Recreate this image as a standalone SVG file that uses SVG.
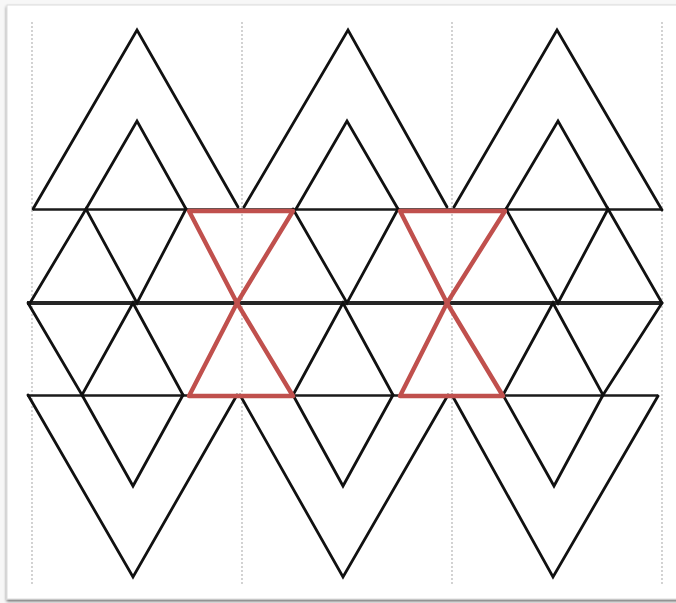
<svg xmlns="http://www.w3.org/2000/svg" width="676" height="603" viewBox="0 0 676 603">
  <style>
    .blk { fill: none; stroke: #111111; stroke-width: 2.8; stroke-linejoin: miter; stroke-linecap: round; }
    .hz { fill: none; stroke: #1a1a1a; stroke-width: 2.6; }
    .mid { fill: none; stroke: #262626; stroke-width: 3.8; }
    .red { fill: none; stroke: #c0504d; stroke-width: 4.4; stroke-linejoin: round; stroke-linecap: round; }
    .guide { stroke: #c8c8c8; stroke-width: 1.6; stroke-dasharray: 2 2; }
  </style>
  <defs>
    <filter id="sh" x="-5%" y="-5%" width="110%" height="110%">
      <feGaussianBlur in="SourceAlpha" stdDeviation="1.5"/>
      <feOffset dx="0" dy="1.5"/>
      <feComponentTransfer><feFuncA type="linear" slope="0.55"/></feComponentTransfer>
      <feMerge><feMergeNode/><feMergeNode in="SourceGraphic"/></feMerge>
    </filter>
  </defs>

  <rect x="0" y="0" width="676" height="603" fill="#f7f7f7"/>
  <g id="frame">
    <rect x="7" y="5" width="672" height="594" fill="#ffffff" stroke="#dcdcdc" stroke-width="1" filter="url(#sh)"/>
  </g>

  <g id="guides">
    <line class="guide" x1="32" y1="22" x2="32" y2="586"/>
    <line class="guide" x1="242" y1="22" x2="242" y2="586"/>
    <line class="guide" x1="452" y1="22" x2="452" y2="586"/>
    <line class="guide" x1="662" y1="22" x2="662" y2="586"/>
  </g>

  <g id="connectors">
    <line class="hz" x1="33" y1="209.5" x2="662" y2="209.5"/>
    <line class="mid" x1="27" y1="303" x2="662" y2="303"/>
    <line class="hz" x1="27" y1="395.5" x2="658" y2="395.5"/>

    <polyline class="blk" points="33,209 137,30 238,207"/>
    <polyline class="blk" points="244,207 348,30 447,207"/>
    <polyline class="blk" points="454,207 557,30 662,210"/>
    <polyline class="blk" points="86,209 137,121 186,209"/>
    <polyline class="blk" points="296,209 347,121 398,209"/>
    <polyline class="blk" points="506,209 558,121 608,209"/>

    <polyline class="blk" points="30,303 86,209 137,303 186,209"/>
    <polyline class="blk" points="293,209 347,303 398,209"/>
    <polyline class="blk" points="506,209 558,303 608,209 662,303"/>

    <polyline class="blk" points="28,303 82,395 133,303 183,395"/>
    <polyline class="blk" points="293,395 343,303 393,395"/>
    <polyline class="blk" points="503,395 553,303 603,395 662,303"/>

    <polyline class="blk" points="28,395 133,577 237,395"/>
    <polyline class="blk" points="240,395 343,577 448,395"/>
    <polyline class="blk" points="452,395 553,577 658,396"/>
    <polyline class="blk" points="82,395 133,486 183,395"/>
    <polyline class="blk" points="293,395 343,486 393,395"/>
    <polyline class="blk" points="503,395 554,486 603,395"/>
  </g>

  <g id="hourglass-1">
    <polygon class="red" points="189,211 293,211 237,303"/>
    <polygon class="red" points="237,303 293,396 189,396"/>
  </g>
  <g id="hourglass-2">
    <polygon class="red" points="400,211 505,211 447,303"/>
    <polygon class="red" points="447,303 503,396 400,396"/>
  </g>
</svg>
